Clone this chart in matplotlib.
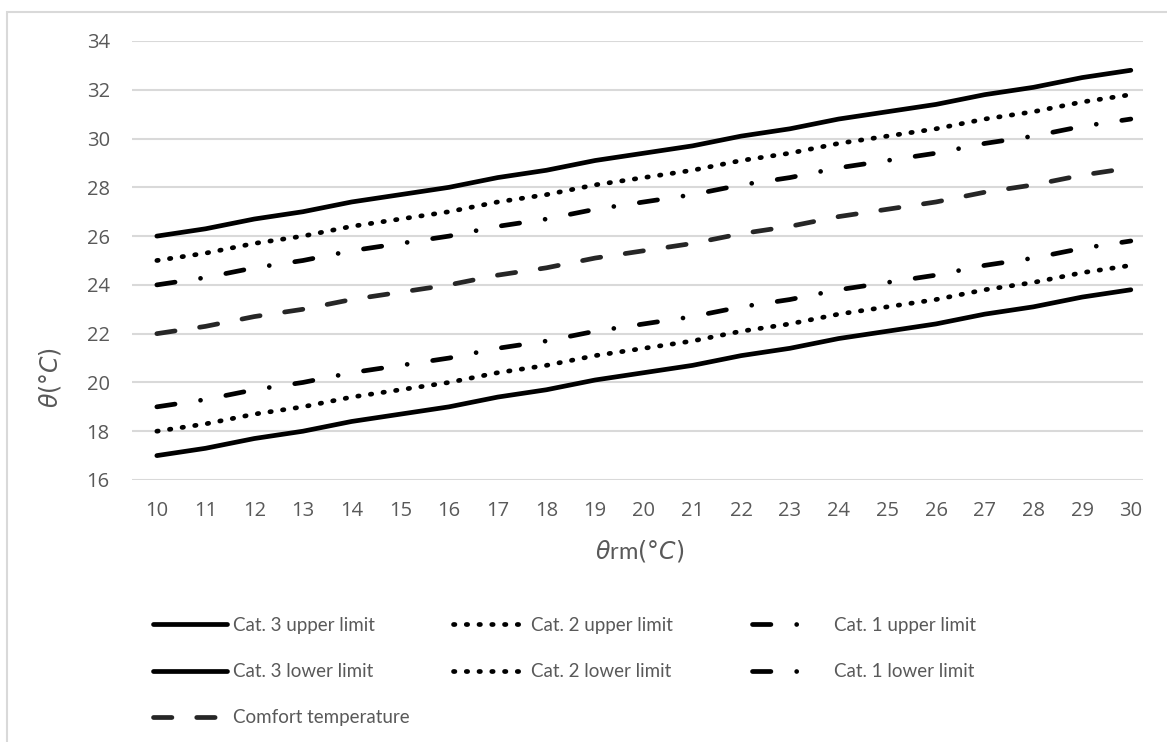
import numpy as np
import matplotlib.pyplot as plt
from matplotlib.patches import Rectangle

theta_rm = list(range(10, 31))
cat3_upper = [26.0, 26.3, 26.7, 27.0, 27.4, 27.7, 28.0, 28.4, 28.7, 29.1, 29.4,
              29.7, 30.1, 30.4, 30.8, 31.1, 31.4, 31.8, 32.1, 32.5, 32.8]
cat2_upper = [25.0, 25.3, 25.7, 26.0, 26.4, 26.7, 27.0, 27.4, 27.7, 28.1, 28.4,
              28.7, 29.1, 29.4, 29.8, 30.1, 30.4, 30.8, 31.1, 31.5, 31.8]
cat1_upper = [24.0, 24.3, 24.7, 25.0, 25.4, 25.7, 26.0, 26.4, 26.7, 27.1, 27.4,
              27.7, 28.1, 28.4, 28.8, 29.1, 29.4, 29.8, 30.1, 30.5, 30.8]
comfort = [22.0, 22.3, 22.7, 23.0, 23.4, 23.7, 24.0, 24.4, 24.7, 25.1, 25.4,
           25.7, 26.1, 26.4, 26.8, 27.1, 27.4, 27.8, 28.1, 28.5, 28.8]
cat1_lower = [19.0, 19.3, 19.7, 20.0, 20.4, 20.7, 21.0, 21.4, 21.7, 22.1, 22.4,
              22.7, 23.1, 23.4, 23.8, 24.1, 24.4, 24.8, 25.1, 25.5, 25.8]
cat2_lower = [18.0, 18.3, 18.7, 19.0, 19.4, 19.7, 20.0, 20.4, 20.7, 21.1, 21.4,
              21.7, 22.1, 22.4, 22.8, 23.1, 23.4, 23.8, 24.1, 24.5, 24.8]
cat3_lower = [17.0, 17.3, 17.7, 18.0, 18.4, 18.7, 19.0, 19.4, 19.7, 20.1, 20.4,
              20.7, 21.1, 21.4, 21.8, 22.1, 22.4, 22.8, 23.1, 23.5, 23.8]

plt.rcParams['font.family'] = ['Lato', 'DejaVu Sans']
plt.rcParams['mathtext.fontset'] = 'dejavusans'
grey = '#595959'

fig = plt.figure(figsize=(11.67, 7.42), dpi=100)
fig.patches.append(Rectangle((7/1167, -0.1), 1.2, 1 - 12/742 + 0.1, transform=fig.transFigure,
                             fill=False, edgecolor='#d9d9d9', linewidth=1.5))
ax = fig.add_axes([132/1167, 1 - 480/742, (1143 - 132)/1167, (480 - 41)/742])

lw = 3.4
dot = (0, (0.3, 2.4))
dashdot = (0, (3.9, 5.45, 0.01, 5.45))
dash = (0, (3.9, 5.25))

h1, = ax.plot(theta_rm, cat3_upper, color='black', lw=lw, solid_capstyle='round', label='Cat. 3 upper limit')
h2, = ax.plot(theta_rm, cat2_upper, color='black', lw=lw, ls=dot, dash_capstyle='round', label='Cat. 2 upper limit')
h3, = ax.plot(theta_rm, cat1_upper, color='black', lw=lw, ls=dashdot, dash_capstyle='round', label='Cat. 1 upper limit')
h4, = ax.plot(theta_rm, cat3_lower, color='black', lw=lw, solid_capstyle='round', label='Cat. 3 lower limit')
h5, = ax.plot(theta_rm, cat2_lower, color='black', lw=lw, ls=dot, dash_capstyle='round', label='Cat. 2 lower limit')
h6, = ax.plot(theta_rm, cat1_lower, color='black', lw=lw, ls=dashdot, dash_capstyle='round', label='Cat. 1 lower limit')
h7, = ax.plot(theta_rm, comfort, color='#262626', lw=lw, ls=dash, dash_capstyle='round', label='Comfort temperature')

ax.set_xlim(9.49, 30.25)
ax.set_ylim(16, 34)
ax.set_yticks(np.arange(16, 35, 2))
ax.set_xticks(theta_rm)
ax.grid(axis='y', color='#d9d9d9', linewidth=1.5)
ax.set_axisbelow(True)
for s in ax.spines.values():
    s.set_visible(False)
ax.tick_params(length=0, labelsize=14.5, colors=grey, pad=15)
ax.tick_params(axis='y', pad=16)
for lab in ax.get_xticklabels() + ax.get_yticklabels():
    lab.set_family(['Open Sans', 'DejaVu Sans'])

fig.text(50/1167, 1 - 377/742, r'$\theta(°C)$', rotation=90, ha='center', va='center',
         fontsize=17, color=grey)
fig.text(640/1167, 1 - 551/742, r'$\theta$rm$(°C)$', ha='center', va='center',
         fontsize=17, color=grey)

# three legend columns placed by hand
columns = [([h1, h4, h7], 153, 3.95, 0.3), ([h2, h5], 453, 3.9, 0.25), ([h3, h6], 752, 3.5, 0.85)]
for handles, xpix, hlen, hpad in columns:
    fig.legend(handles=handles, loc='upper left',
               bbox_to_anchor=(xpix/1167, 1 - 617/742), frameon=False,
               fontsize=13.5, labelcolor=grey, handlelength=hlen, handletextpad=hpad,
               labelspacing=1.55, borderpad=0, borderaxespad=0)

fig.savefig('out.png', dpi=100)
